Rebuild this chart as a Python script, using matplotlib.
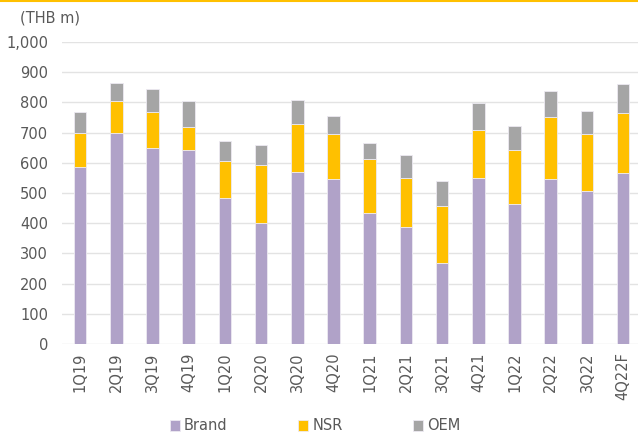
import matplotlib
matplotlib.use("Agg")
import matplotlib.pyplot as plt
import numpy as np

categories = ["1Q19", "2Q19", "3Q19", "4Q19", "1Q20", "2Q20", "3Q20", "4Q20",
              "1Q21", "2Q21", "3Q21", "4Q21", "1Q22", "2Q22", "3Q22", "4Q22F"]
brand = [585, 699, 649, 644, 482, 400, 570, 547, 435, 388, 269, 549, 462, 547, 508, 567]
nsr = [113, 106, 120, 76, 125, 194, 159, 150, 176, 161, 187, 159, 182, 205, 189, 197]
oem = [71, 58, 77, 83, 66, 65, 79, 58, 54, 76, 83, 90, 77, 86, 76, 97]
yticks = [0, 100, 200, 300, 400, 500, 600, 700, 800, 900, 1000]

text_color = "#595959"
plt.rcParams['font.family'] = ['DejaVu Sans']

fig = plt.figure(figsize=(6.38, 4.34), dpi=100)
W, H = 638, 434
ax = fig.add_axes([62 / W, 1 - 344 / H, (638 - 62) / W, (344 - 42) / H])

x = np.arange(len(categories))
w = 0.35
b = np.array(brand)
n = np.array(nsr)
o = np.array(oem)
ec = "#EDEAF2"
ax.bar(x, b, w, color="#B0A2C8", edgecolor=ec, linewidth=0.6, label="Brand", zorder=3)
ax.bar(x, n, w, bottom=b, color="#FFC000", edgecolor=ec, linewidth=0.6, label="NSR", zorder=3)
ax.bar(x, o, w, bottom=b + n, color="#A5A5A5", edgecolor=ec, linewidth=0.6, label="OEM", zorder=3)

ax.set_ylim(0, 1000)
ax.set_xlim(-0.5, 15.41)
ax.set_yticks(yticks)
ax.set_yticklabels([f"{v:,}" for v in yticks])
ax.set_xticks(x)
ax.set_xticklabels(categories, rotation=90)
ax.tick_params(axis='both', length=0, colors=text_color, labelsize=10.5)
ax.tick_params(axis='y', pad=10)
ax.tick_params(axis='x', pad=6)
for s in ax.spines.values():
    s.set_visible(False)
ax.grid(axis='y', color="#E3E3E3", linewidth=1.0, zorder=0)
ax.set_axisbelow(True)

fig.text(20 / W, 1 - 18 / H, "(THB m)", color=text_color, fontsize=10.5, va='center', ha='left')

# top accent line
fig.add_artist(plt.Line2D([0, 1], [1 - 0.5 / H, 1 - 0.5 / H], color="#FFC000", linewidth=1.5))

leg = fig.legend(loc='center', bbox_to_anchor=(0.5 - 4 / W, 1 - 426 / H), ncol=3, frameon=False,
                 fontsize=10.5, handlelength=0.7, handleheight=0.7, handletextpad=0.3,
                 columnspacing=4.8)
for t in leg.get_texts():
    t.set_color(text_color)

fig.savefig("out.png", dpi=100)
